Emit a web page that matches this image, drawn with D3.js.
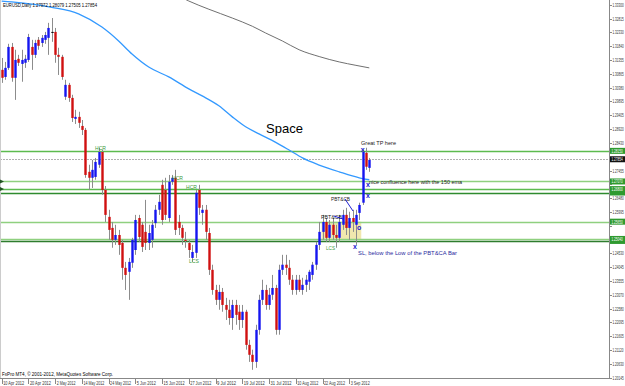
<!DOCTYPE html>
<html>
<head>
<meta charset="utf-8">
<script src="https://cdn.jsdelivr.net/npm/d3@7"></script>
<style>
body { margin: 0; background: #fff; }
svg { display: block; }
text { font-family: "Liberation Sans", Arial, sans-serif; }
</style>
</head>
<body>
<svg id="chart" width="625" height="386"></svg>
<script>
// EURUSD daily, 10 Apr 2012 -> 11 Sep 2012
var opens = [1.3101,1.3076,1.3108,1.3182,1.3073,1.3140,1.3122,1.3126,1.3136,1.3182,
 1.3154,1.3207,1.3196,1.3207,1.3214,1.3235,1.3235,1.3154,1.3147,1.3006,
 1.3048,1.3002,1.2928,1.2935,1.2903,1.2889,1.2741,1.2720,1.2723,1.2766,
 1.2811,1.2677,1.2582,1.2543,1.2501,1.2518,1.2490,1.2402,1.2388,1.2420,
 1.2465,1.2578,1.2554,1.2529,1.2490,1.2501,1.2560,1.2607,1.2695,1.2677,
 1.2578,1.2706,1.2720,1.2564,1.2543,1.2501,1.2490,1.2437,1.2455,1.2677,
 1.2596,1.2607,1.2525,1.2395,1.2324,1.2289,1.2317,1.2271,1.2254,1.2225,
 1.2271,1.2247,1.2218,1.2247,1.2130,1.2095,1.2070,1.2183,1.2289,1.2324,
 1.2271,1.2307,1.2331,1.2183,1.2395,1.2413,1.2402,1.2360,1.2324,1.2360,
 1.2324,1.2342,1.2353,1.2377,1.2413,1.2483,1.2529,1.2564,1.2508,1.2554,
 1.2518,1.2508,1.2554,1.2589,1.2543,1.2578,1.2554,1.2596,1.2632,1.2808,1.2755];
var highs = [1.3143,1.3129,1.3193,1.3196,1.3172,1.3154,1.3172,1.3154,1.3228,1.3207,
 1.3207,1.3217,1.3224,1.3235,1.3267,1.3284,1.3249,1.3179,1.3154,1.3066,
 1.3055,1.3013,1.2960,1.2953,1.2924,1.2896,1.2766,1.2783,1.2790,1.2826,
 1.2819,1.2691,1.2607,1.2564,1.2554,1.2536,1.2501,1.2423,1.2437,1.2508,
 1.2589,1.2589,1.2564,1.2642,1.2554,1.2571,1.2624,1.2660,1.2713,1.2720,
 1.2730,1.2730,1.2748,1.2589,1.2554,1.2529,1.2501,1.2483,1.2677,1.2695,
 1.2624,1.2624,1.2543,1.2413,1.2342,1.2342,1.2331,1.2296,1.2289,1.2289,
 1.2289,1.2271,1.2271,1.2254,1.2148,1.2113,1.2201,1.2307,1.2360,1.2342,
 1.2331,1.2377,1.2342,1.2413,1.2448,1.2448,1.2430,1.2377,1.2377,1.2377,
 1.2367,1.2377,1.2395,1.2423,1.2494,1.2564,1.2589,1.2578,1.2571,1.2578,
 1.2554,1.2589,1.2607,1.2614,1.2600,1.2607,1.2607,1.2632,1.2819,1.2826,1.2790];
var lows = [1.3055,1.3066,1.3101,1.3059,1.2995,1.3115,1.3059,1.3108,1.3129,1.3101,
 1.3143,1.3172,1.3182,1.3193,1.3154,1.3200,1.3126,1.3083,1.3066,1.2995,
 1.2988,1.2917,1.2910,1.2896,1.2871,1.2720,1.2677,1.2684,1.2713,1.2755,
 1.2660,1.2564,1.2501,1.2473,1.2483,1.2448,1.2360,1.2324,1.2289,1.2402,
 1.2448,1.2494,1.2458,1.2465,1.2465,1.2473,1.2543,1.2589,1.2554,1.2571,
 1.2564,1.2695,1.2518,1.2518,1.2483,1.2473,1.2437,1.2423,1.2437,1.2589,
 1.2554,1.2501,1.2377,1.2307,1.2271,1.2254,1.2247,1.2218,1.2201,1.2183,
 1.2201,1.2183,1.2190,1.2113,1.2070,1.2042,1.2049,1.2166,1.2271,1.2254,
 1.2254,1.2289,1.2166,1.2166,1.2377,1.2377,1.2342,1.2307,1.2307,1.2317,
 1.2307,1.2317,1.2324,1.2360,1.2395,1.2465,1.2501,1.2494,1.2494,1.2501,
 1.2473,1.2494,1.2536,1.2518,1.2501,1.2529,1.2483,1.2571,1.2624,1.2748,1.2741];
var closes = [1.3073,1.3108,1.3182,1.3073,1.3136,1.3126,1.3136,1.3140,1.3217,1.3154,
 1.3196,1.3186,1.3214,1.3224,1.3249,1.3235,1.3154,1.3147,1.3076,1.3048,
 1.3002,1.2931,1.2935,1.2914,1.2889,1.2730,1.2720,1.2748,1.2776,1.2811,
 1.2677,1.2589,1.2536,1.2501,1.2518,1.2483,1.2402,1.2377,1.2423,1.2501,
 1.2571,1.2511,1.2476,1.2490,1.2525,1.2554,1.2607,1.2635,1.2571,1.2589,
 1.2706,1.2720,1.2536,1.2543,1.2508,1.2497,1.2465,1.2458,1.2667,1.2614,
 1.2607,1.2529,1.2395,1.2324,1.2289,1.2317,1.2271,1.2254,1.2225,1.2271,
 1.2236,1.2218,1.2247,1.2130,1.2095,1.2070,1.2183,1.2289,1.2324,1.2271,
 1.2307,1.2331,1.2183,1.2395,1.2413,1.2402,1.2360,1.2324,1.2360,1.2324,
 1.2342,1.2360,1.2388,1.2413,1.2483,1.2529,1.2564,1.2508,1.2554,1.2518,
 1.2508,1.2564,1.2589,1.2543,1.2578,1.2564,1.2589,1.2624,1.2811,1.2759,1.2783];

// moving averages, sampled at bar indices
var ema150Bars = [0, 3, 15, 23, 30, 35, 39, 44, 50, 56, 60, 65, 69, 73, 77, 82, 86, 90, 95, 101, 107, 110];
var ema150 = [1.3344, 1.3341, 1.3322, 1.3299, 1.3252, 1.3203, 1.3157, 1.3111, 1.3076, 1.3034, 1.3009, 1.2974,
 1.2935, 1.2900, 1.2875, 1.2845, 1.2818, 1.2790, 1.2765, 1.2741, 1.2720, 1.2713];
var ema200Bars = [50, 56, 62, 69, 75, 79, 84, 89, 95, 101, 106, 110];
var ema200 = [1.3380, 1.3344, 1.3315, 1.3284, 1.3255, 1.3231, 1.3203, 1.3172, 1.3148, 1.3129, 1.3117, 1.3108];

// horizontal levels drawn on the chart
var levelPrices = [1.28150, 1.27070, 1.26800, 1.26680, 1.25650, 1.25040, 1.24970];
var lastPrice = 1.27854;

// right axis tick labels
var priceTicks = ["1.33300","1.32815","1.32330","1.31840","1.31355","1.30865","1.30380","1.29895","1.29405","1.28920",
 "1.28430","1.27945","1.27455","1.26970","1.26480","1.25995","1.25505","1.25020","1.24530","1.24045",
 "1.23555","1.23070","1.22580","1.22095","1.21605","1.21120","1.20630","1.20145"];

// bottom axis labels (bar index -> text)
var dateTickBars = [0, 8, 16, 24, 32, 40, 48, 56, 64, 72, 80, 88, 96, 104];
var dateTickLabels = ["10 Apr 2012","20 Apr 2012","2 May 2012","14 May 2012","24 May 2012","5 Jun 2012","15 Jun 2012",
 "27 Jun 2012","9 Jul 2012","19 Jul 2012","31 Jul 2012","10 Aug 2012","22 Aug 2012","3 Sep 2012"];

var plotW = 609, plotH = 378;

// trading days, weekdays only
var days = d3.utcDays(new Date(Date.UTC(2012, 3, 10)), new Date(Date.UTC(2012, 8, 12)))
    .filter(function (d) { return d.getUTCDay() !== 0 && d.getUTCDay() !== 6; });
var bars = days.map(function (d, i) {
    return {date: d, i: i, o: opens[i], h: highs[i], l: lows[i], c: closes[i]};
});

var x = d3.scaleBand().domain(d3.range(bars.length)).range([0, bars.length * 3.342]);
var cx = function (i) { return x(i) + x.bandwidth() / 2; };
var y = d3.scaleLinear().domain([1.20145, 1.33300]).range([377.6, 5]);

var svg = d3.select("#chart");

svg.append("defs").append("clipPath").attr("id", "plot")
    .append("rect").attr("x", 0).attr("y", 0).attr("width", plotW).attr("height", plotH);

var plot = svg.append("g").attr("clip-path", "url(#plot)");

// yellow zone
plot.append("rect")
    .attr("x", cx(96) - 1).attr("width", cx(107) - cx(96) + 3)
    .attr("y", y(1.2565)).attr("height", y(1.2504) - y(1.2565))
    .attr("fill", "#efe3a0").attr("opacity", 0.85);

// level lines
var levelColor = ["#5dbb4f", "#8fd07f", "#5dbb4f", "#2e8b2e", "#8fd07f", "#8fd07f", "#2e7d2e"];
plot.selectAll(".level").data(levelPrices).enter().append("line")
    .attr("x1", 0).attr("x2", plotW)
    .attr("y1", function (d) { return Math.round(y(d)) + 0.5; })
    .attr("y2", function (d) { return Math.round(y(d)) + 0.5; })
    .attr("stroke", function (d, i) { return levelColor[i]; })
    .attr("stroke-width", 1.5);

// last price line
plot.append("line")
    .attr("x1", 0).attr("x2", plotW)
    .attr("y1", Math.round(y(lastPrice)) + 0.5).attr("y2", Math.round(y(lastPrice)) + 0.5)
    .attr("stroke", "#b0b0b0").attr("stroke-dasharray", "2,1");

// moving averages
var maLine = d3.line().curve(d3.curveMonotoneX);
plot.append("path")
    .attr("d", maLine(ema200Bars.map(function (b, k) { return [cx(b), y(ema200[k])]; })))
    .attr("fill", "none").attr("stroke", "#707070").attr("stroke-width", 1);
plot.append("path")
    .attr("d", maLine(ema150Bars.map(function (b, k) { return [cx(b), y(ema150[k])]; })))
    .attr("fill", "none").attr("stroke", "#3399ff").attr("stroke-width", 1.3);

// candles
var candle = plot.selectAll(".candle").data(bars).enter().append("g");
candle.append("line")
    .attr("x1", function (d) { return Math.round(cx(d.i)) + 0.5; })
    .attr("x2", function (d) { return Math.round(cx(d.i)) + 0.5; })
    .attr("y1", function (d) { return y(d.h); })
    .attr("y2", function (d) { return y(d.l); })
    .attr("stroke", "#8c8c8c").attr("stroke-width", 1);
candle.append("rect")
    .attr("x", function (d) { return Math.round(cx(d.i)) - 0.7; })
    .attr("width", 2.4)
    .attr("y", function (d) { return y(Math.max(d.o, d.c)); })
    .attr("height", function (d) { return Math.max(1, Math.abs(y(d.o) - y(d.c))); })
    .attr("fill", function (d) { return d.c > d.o ? "#1515f0" : d.c < d.o ? "#d01010" : "#000"; });

// annotations
plot.append("text").attr("x", 266).attr("y", 133).attr("font-size", 13).text("Space");
var small = [
    {t: "Great TP here", x: 361, y: 145, c: "#222", w: 35},
    {t: "nice confluence here with the 150 ema", x: 369, y: 184, c: "#222", w: 93},
    {t: "SL, below the Low of the PBT&CA Bar", x: 358, y: 255, c: "#2a2aa0", w: 99},
    {t: "PBT&CB", x: 331, y: 201, c: "#222", w: 19},
    {t: "PBT&CB", x: 321, y: 219, c: "#222", w: 21},
    {t: "HCR", x: 95, y: 150, c: "#3a9a3a", w: 11},
    {t: "HCR", x: 172, y: 180, c: "#3a9a3a", w: 11},
    {t: "HCR", x: 186, y: 189, c: "#3a9a3a", w: 11},
    {t: "LCS", x: 189, y: 263, c: "#3a9a3a", w: 10},
    {t: "LCS", x: 326, y: 250, c: "#3a9a3a", w: 9}
];
plot.selectAll(".note").data(small).enter().append("text")
    .attr("x", function (d) { return d.x; }).attr("y", function (d) { return d.y; })
    .attr("font-size", 6).attr("fill", function (d) { return d.c; })
    .attr("textLength", function (d) { return d.w; }).attr("lengthAdjust", "spacingAndGlyphs")
    .text(function (d) { return d.t; });

// blue markers
var marks = [[cx(108), 1.2819, "x"], [cx(109) + 2, 1.2697, "x"], [cx(109) + 2, 1.2657, "x"], [cx(106) - 1, 1.2476, "x"], [cx(107), 1.2546, "o"]];
plot.selectAll(".mark").data(marks).enter().append("text")
    .attr("x", function (d) { return d[0]; }).attr("y", function (d) { return y(d[1]) + 2.5; })
    .attr("text-anchor", "middle").attr("font-size", 7).attr("font-weight", "bold")
    .attr("fill", "#2020d0").text(function (d) { return d[2]; });
plot.append("line").attr("x1", 345).attr("y1", 199).attr("x2", 353).attr("y2", 211).attr("stroke", "#2020d0");
plot.append("line").attr("x1", 334).attr("y1", 216).attr("x2", 343).attr("y2", 219).attr("stroke", "#2020d0");

// header / footer
svg.append("text").attr("x", 3).attr("y", 7).attr("font-size", 5).attr("textLength", 94)
    .attr("lengthAdjust", "spacingAndGlyphs").text("EURUSD,Daily  1.27972 1.28079 1.27505 1.27854");
svg.append("text").attr("x", 2).attr("y", 376).attr("font-size", 5).attr("textLength", 111)
    .attr("lengthAdjust", "spacingAndGlyphs").text("FxPro MT4, \u00a9 2001-2012, MetaQuotes Software Corp.");

// frame
svg.append("line").attr("x1", plotW + 0.5).attr("x2", plotW + 0.5).attr("y1", 0).attr("y2", plotH + 0.5).attr("stroke", "#888");
svg.append("line").attr("x1", 0).attr("x2", plotW + 0.5).attr("y1", plotH + 0.5).attr("y2", plotH + 0.5).attr("stroke", "#888");
svg.append("line").attr("x1", 0.5).attr("x2", 0.5).attr("y1", 0).attr("y2", plotH).attr("stroke", "#ccc");

// narrow label on the price scale: squeezed horizontally so it stays inside the window
function scaleLabel(sel, xPos) {
    sel.attr("transform", function (d) { return "translate(" + xPos + "," + (y(+d) + 2) + ") scale(0.62,1)"; })
        .attr("font-size", 5)
        .text(function (d) { return typeof d === "string" ? d : fmt(d); });
}
var fmt = d3.format(".5f");

// right axis; labels hidden where a price box covers them
var boxPrices = levelPrices.concat([lastPrice]);
var visibleTicks = priceTicks.filter(function (t) {
    return boxPrices.every(function (p) { return Math.abs(y(p) - y(+t)) > 5; });
});
var rAxis = svg.append("g");
rAxis.selectAll("line").data(priceTicks).enter().append("line")
    .attr("x1", plotW).attr("x2", plotW + 3)
    .attr("y1", function (d) { return Math.round(y(+d)) + 0.5; })
    .attr("y2", function (d) { return Math.round(y(+d)) + 0.5; })
    .attr("stroke", "#888");
rAxis.selectAll("text").data(visibleTicks).enter().append("text")
    .attr("fill", "#333").call(scaleLabel, plotW + 3.5);

// level price boxes
var boxes = svg.selectAll(".lvl").data(levelPrices).enter().append("g");
boxes.append("rect").attr("x", plotW + 1).attr("width", 15)
    .attr("y", function (d) { return y(d) - 3; }).attr("height", 6).attr("fill", "#2f9a2f");
svg.append("rect").attr("x", plotW + 1).attr("width", 15).attr("y", y(lastPrice) - 3).attr("height", 6).attr("fill", "#111");
// label the boxes, skipping ones that sit under a neighbour
var boxLabels = boxPrices.filter(function (p, k) {
    return boxPrices.every(function (q, j) { return j >= k || Math.abs(y(p) - y(q)) > 5.5; });
});
svg.selectAll(".lvlText").data(boxLabels).enter().append("text")
    .attr("fill", "#fff").call(scaleLabel, plotW + 2.5);

// left edge markers
[1.2707, 1.2680].forEach(function (p) {
    svg.append("path").attr("d", "M0," + (y(p) - 2) + "L4," + y(p) + "L0," + (y(p) + 2) + "Z").attr("fill", "#225522");
});

// bottom axis
var bAxis = svg.append("g");
bAxis.selectAll("line").data(dateTickBars).enter().append("line")
    .attr("x1", function (d) { return Math.round(cx(d)) + 0.5; })
    .attr("x2", function (d) { return Math.round(cx(d)) + 0.5; })
    .attr("y1", plotH).attr("y2", plotH + 6).attr("stroke", "#888");
bAxis.selectAll("text").data(dateTickBars).enter().append("text")
    .attr("x", function (d) { return cx(d) + 1.5; }).attr("y", 385)
    .attr("font-size", 5).attr("fill", "#333")
    .attr("textLength", function (d, k) { return dateTickLabels[k].length > 10 ? 21 : 19; })
    .attr("lengthAdjust", "spacingAndGlyphs")
    .text(function (d, k) { return dateTickLabels[k]; });
</script>
</body>
</html>
